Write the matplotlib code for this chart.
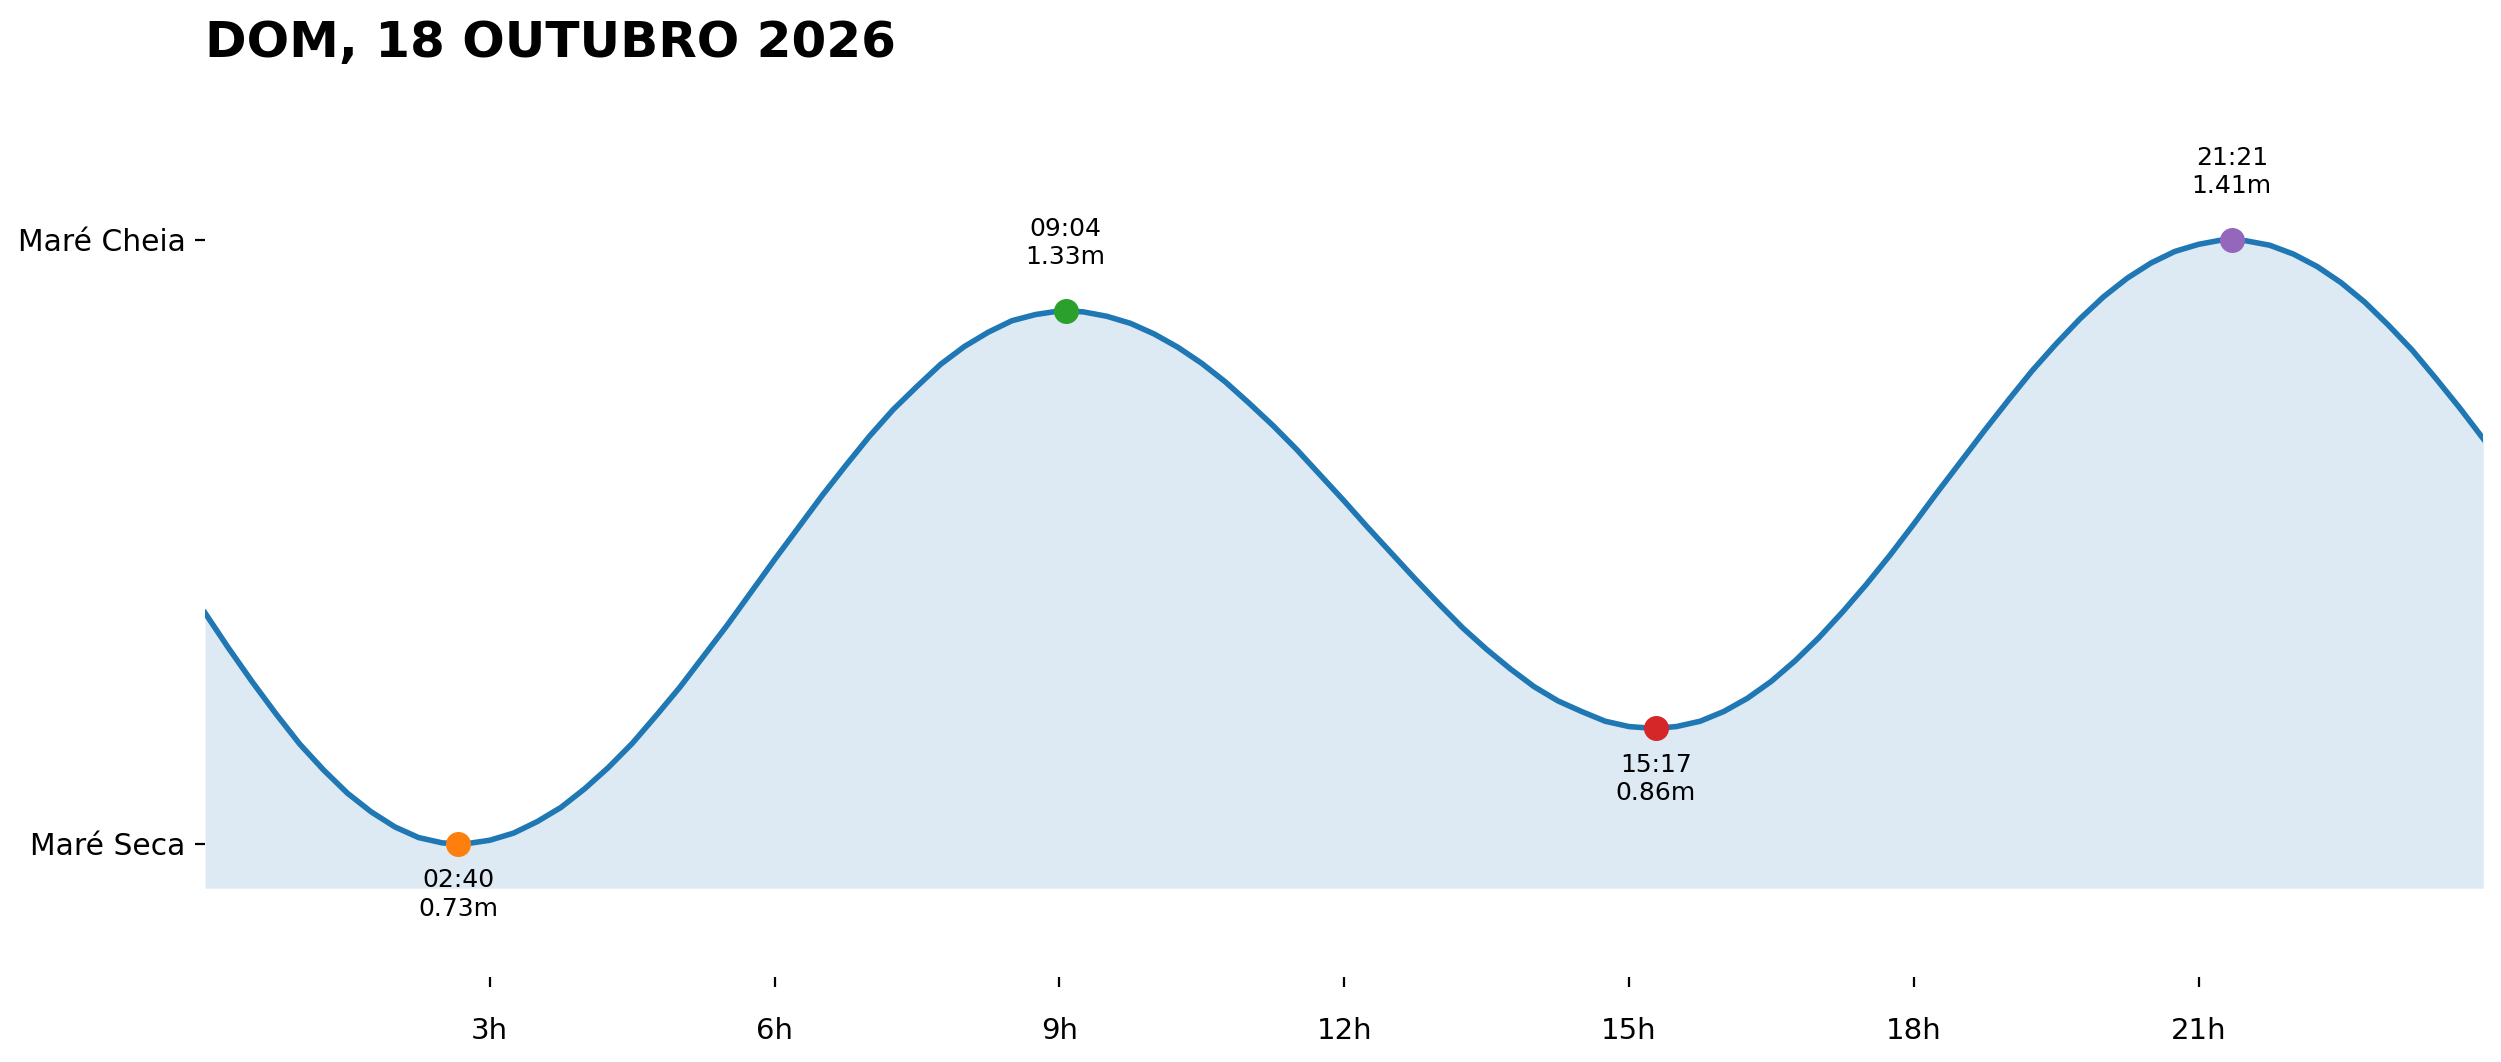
import numpy as np
import matplotlib
matplotlib.use("Agg")
import matplotlib.pyplot as plt

# tide height (m) every 15 minutes, 00:00 -> 24:00
heights = [0.990, 0.950, 0.912, 0.876, 0.842, 0.813, 0.787, 0.766, 0.749, 0.737, 0.731, 0.730,
           0.734, 0.742, 0.755, 0.771, 0.792, 0.816, 0.843, 0.874, 0.906, 0.941, 0.976, 1.013,
           1.050, 1.086, 1.122, 1.156, 1.189, 1.219, 1.245, 1.270, 1.290, 1.306, 1.319, 1.326,
           1.330, 1.329, 1.324, 1.316, 1.304, 1.289, 1.271, 1.250, 1.226, 1.201, 1.174, 1.145,
           1.116, 1.086, 1.057, 1.028, 1.000, 0.973, 0.949, 0.927, 0.907, 0.891, 0.879, 0.868,
           0.862, 0.860, 0.862, 0.868, 0.879, 0.894, 0.913, 0.936, 0.962, 0.991, 1.022, 1.055,
           1.090, 1.126, 1.161, 1.196, 1.230, 1.263, 1.293, 1.321, 1.346, 1.367, 1.384, 1.397,
           1.405, 1.410, 1.409, 1.404, 1.394, 1.380, 1.362, 1.340, 1.314, 1.286, 1.254, 1.221,
           1.186]
hours = np.linspace(0, 24, len(heights))

# high / low tide events
event_times = ["02:40", "09:04", "15:17", "21:21"]
event_heights = [0.73, 1.33, 0.86, 1.41]
event_high = [False, True, False, True]
event_colors = ["tab:orange", "tab:green", "tab:red", "tab:purple"]

title = "DOM, 18 OUTUBRO 2026"
xtick_hours = [3, 6, 9, 12, 15, 18, 21]

# event times as decimal hours
event_x = [int(s[:2]) + int(s[3:]) / 60 for s in event_times]

# merge events into the curve so the line passes through the markers
x = np.concatenate([hours, event_x])
y = np.concatenate([heights, event_heights])
order = np.argsort(x)
x, y = x[order], y[order]

low = min(event_heights)
high = max(event_heights)

fig = plt.figure(figsize=(2501 / 200, 1062 / 200), dpi=200)
ax = fig.add_axes([0.08197, 0.08004, 0.91096, 0.81949])

ax.fill_between(x, y, low - 0.05, color="tab:blue", alpha=0.15, linewidth=0)
ax.plot(x, y, color="tab:blue", linewidth=2, solid_joinstyle="round")

for t, lbl, h, up, c in zip(event_x, event_times, event_heights, event_high, event_colors):
    ax.plot(t, h, "o", color=c, markersize=8, zorder=4)
    if up:
        ax.annotate(f"{lbl}\n{h:.2f}m", (t, h), xytext=(0, 15), textcoords="offset points",
                    ha="center", va="bottom", fontsize=9, linespacing=1.2)
    else:
        ax.annotate(f"{lbl}\n{h:.2f}m", (t, h), xytext=(0, -8.7), textcoords="offset points",
                    ha="center", va="top", fontsize=9, linespacing=1.25)

ax.set_xlim(0, 24)
ax.set_ylim(low - 0.15, high + 0.15)

ax.set_xticks(xtick_hours)
ax.set_xticklabels([f"{h}h" for h in xtick_hours])
ax.set_yticks([low, high])
ax.set_yticklabels(["Maré Seca", "Maré Cheia"])
ax.tick_params(axis="x", pad=11, labelsize=10.5)
ax.tick_params(axis="y", labelsize=10.7)

for s in ax.spines.values():
    s.set_visible(False)

ax.set_title(title, loc="left", fontsize=18, fontweight="bold", pad=18)

fig.savefig("out.png", dpi=200)
